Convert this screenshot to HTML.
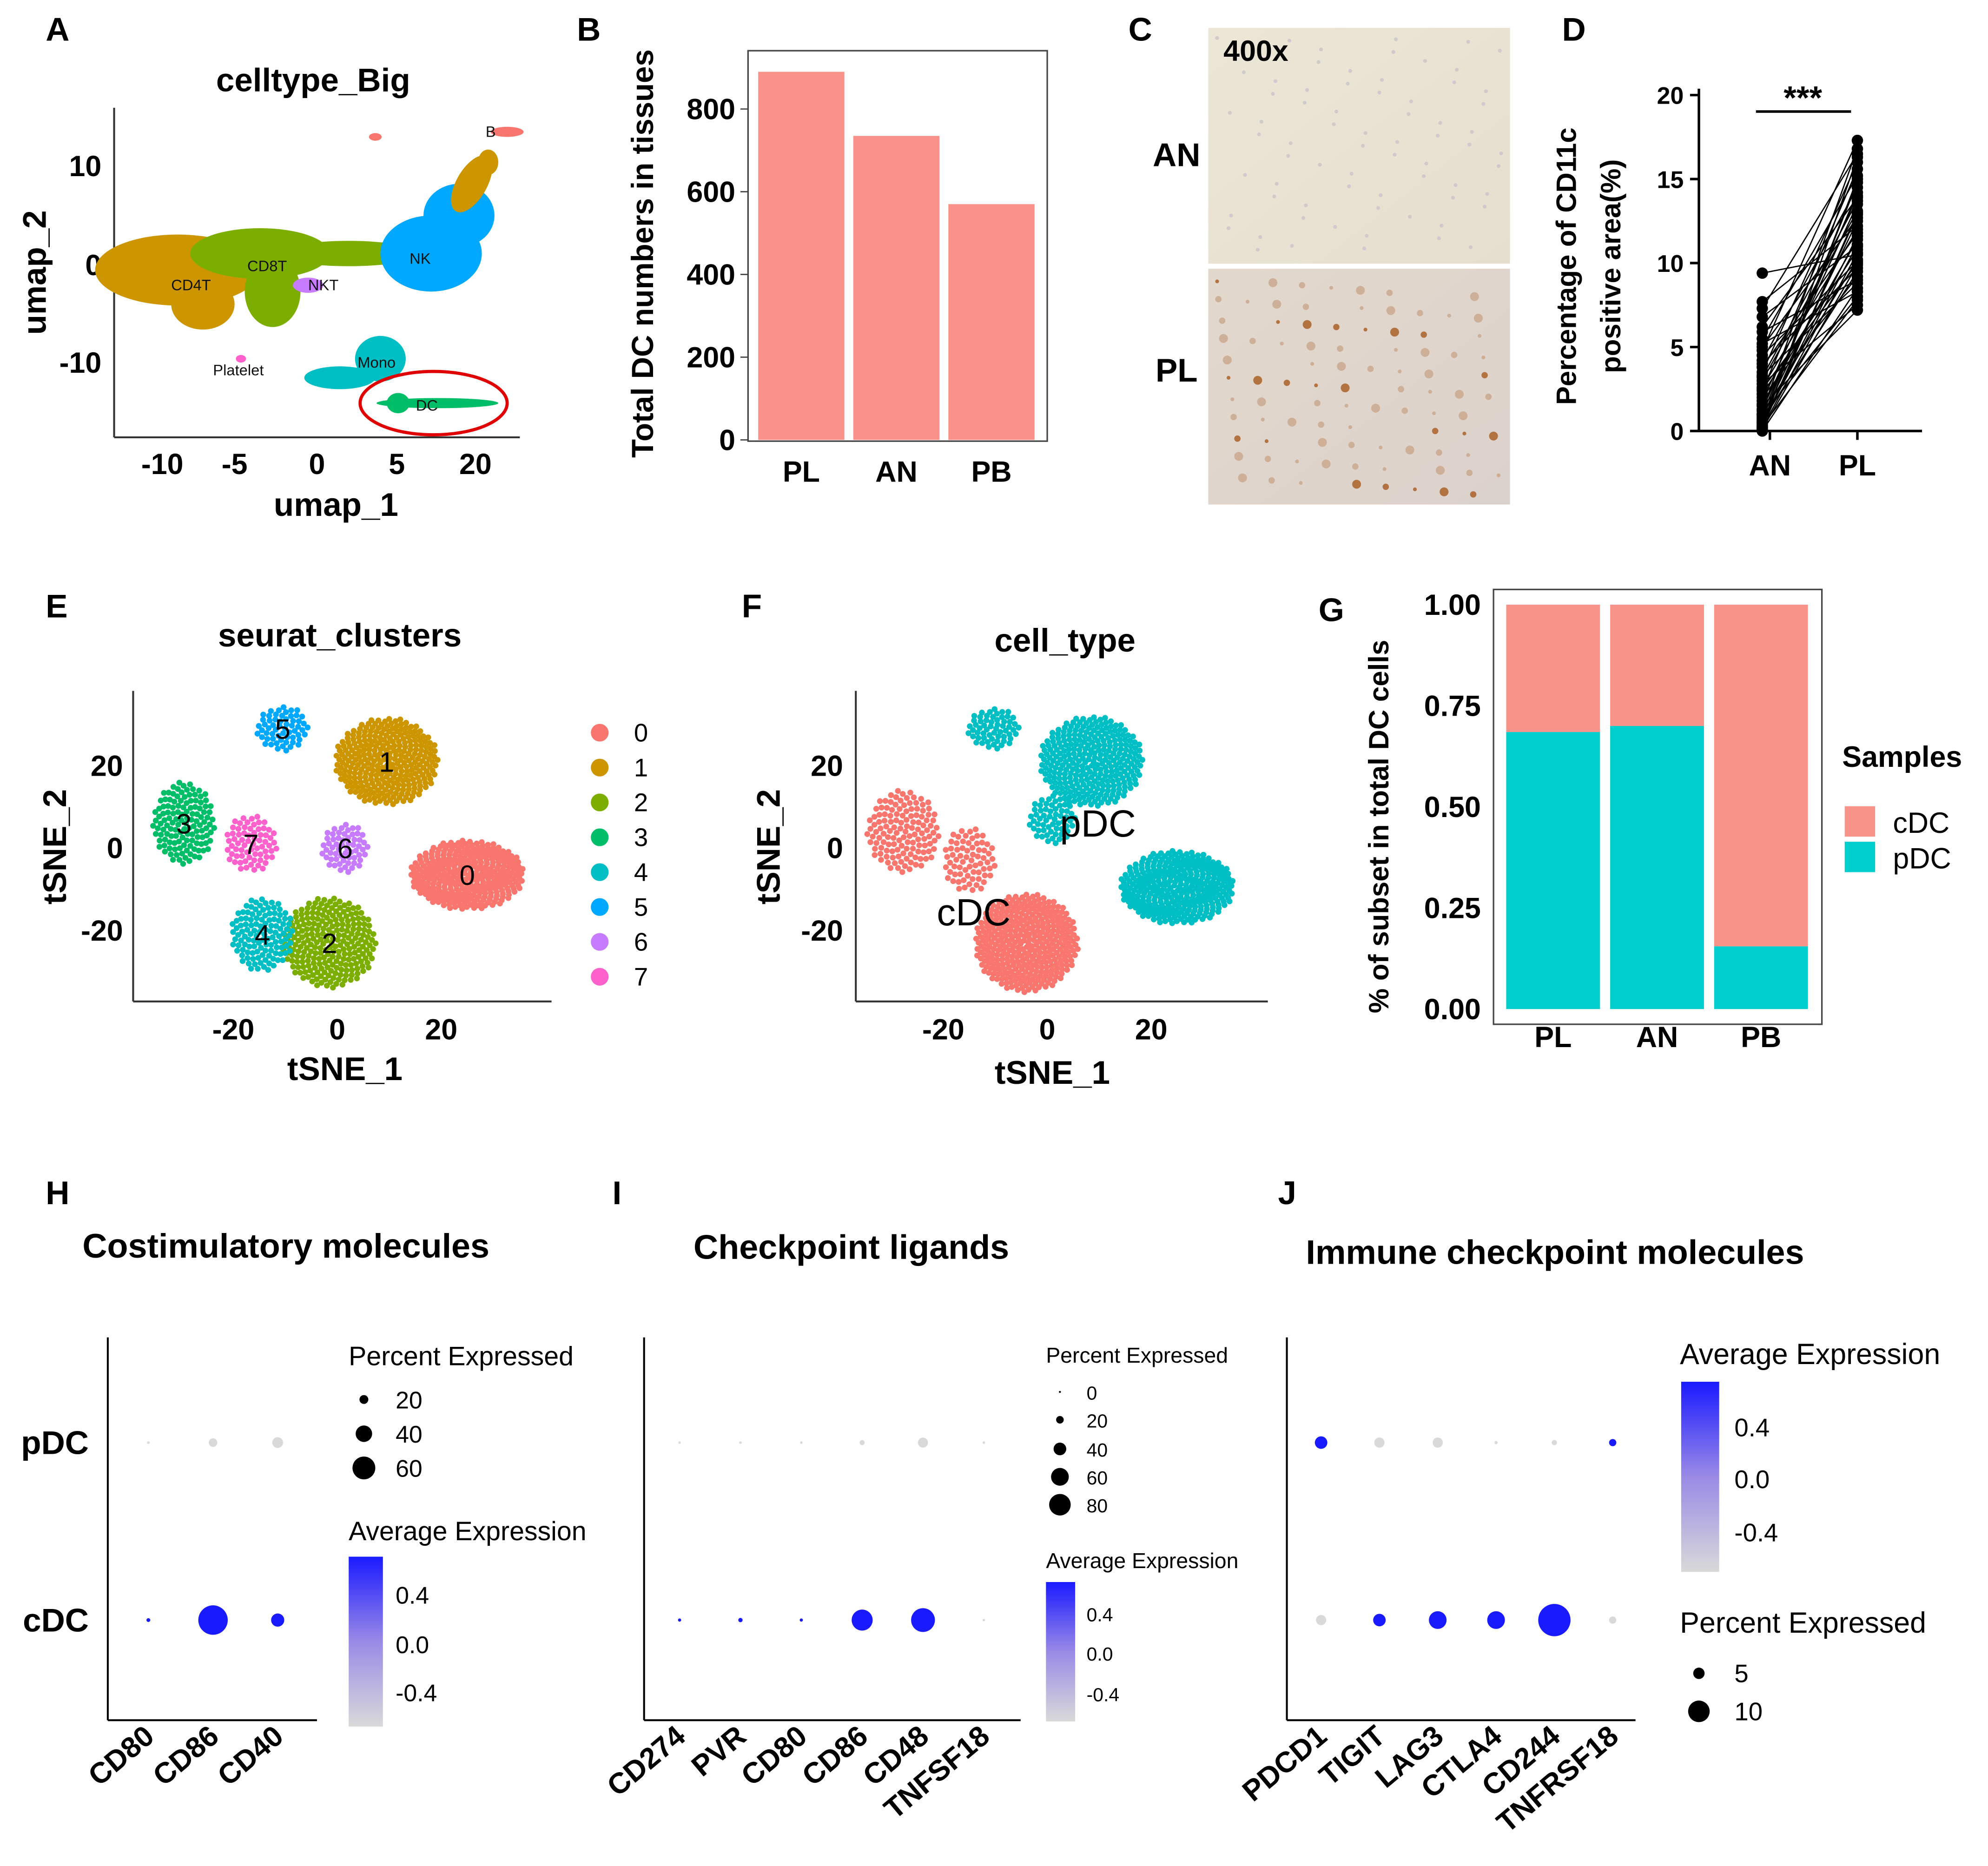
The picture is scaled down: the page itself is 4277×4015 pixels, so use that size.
<!DOCTYPE html>
<html><head><meta charset="utf-8">
<style>
html,body{margin:0;padding:0;background:#fff;}
svg{display:block;}
text{font-family:"Liberation Sans",sans-serif;}
.b{font-weight:bold;}
</style></head>
<body>
<svg id="fig" xmlns="http://www.w3.org/2000/svg" width="4277" height="4015" viewBox="0 0 1568 1472">
<defs>
<linearGradient id="cbar" x1="0" y1="0" x2="0" y2="1">
<stop offset="0" stop-color="#1a1aff"/><stop offset="0.5" stop-color="#9a8ae6"/><stop offset="1" stop-color="#d9d9d9"/>
</linearGradient>
<linearGradient id="tissueA" x1="0" y1="0" x2="1" y2="1">
<stop offset="0" stop-color="#ece6d6"/><stop offset="1" stop-color="#e6dfcf"/>
</linearGradient>
<linearGradient id="tissueB" x1="0" y1="0" x2="1" y2="1">
<stop offset="0" stop-color="#e3d8cc"/><stop offset="1" stop-color="#dcd2cc"/>
</linearGradient>
</defs>

<!-- Panel labels -->
<g class="b" font-size="26">
<text x="36" y="32">A</text><text x="455" y="32">B</text><text x="890" y="32">C</text><text x="1232" y="32">D</text>
<text x="36" y="487">E</text><text x="585" y="487">F</text><text x="1040" y="490">G</text>
<text x="36" y="950">H</text><text x="483" y="950">I</text><text x="1008" y="950">J</text>
</g>

<!-- Panel A: UMAP -->
<g id="panelA">
<text x="247" y="72" text-anchor="middle" class="b" font-size="26">celltype_Big</text>
<line x1="90" y1="85" x2="90" y2="345" stroke="#333" stroke-width="1.5"/>
<line x1="90" y1="345" x2="410" y2="345" stroke="#333" stroke-width="1.5"/>
<g class="b" font-size="23" text-anchor="end">
<text x="80" y="139">10</text><text x="80" y="217">0</text><text x="80" y="294">-10</text></g>
<g class="b" font-size="23" text-anchor="middle">
<text x="128" y="374">-10</text><text x="185" y="374">-5</text><text x="250" y="374">0</text><text x="313" y="374">5</text><text x="375" y="374">20</text></g>
<text x="265" y="407" text-anchor="middle" class="b" font-size="26">umap_1</text>
<text transform="translate(36,215) rotate(-90)" text-anchor="middle" class="b" font-size="26">umap_2</text>
<g>
<ellipse cx="140" cy="213" rx="65" ry="28" fill="#CD9600"/>
<ellipse cx="160" cy="240" rx="25" ry="20" fill="#CD9600"/>
<ellipse cx="205" cy="200" rx="55" ry="20" fill="#7CAE00"/>
<ellipse cx="215" cy="230" rx="22" ry="28" fill="#7CAE00"/>
<ellipse cx="275" cy="200" rx="55" ry="10" fill="#7CAE00"/>
<ellipse cx="340" cy="200" rx="40" ry="30" fill="#00A9FF"/>
<ellipse cx="362" cy="170" rx="28" ry="25" fill="#00A9FF"/>
<ellipse cx="372" cy="145" rx="12" ry="25" fill="#CD9600" transform="rotate(30 372 145)"/>
<ellipse cx="385" cy="128" rx="8" ry="10" fill="#CD9600"/>
<ellipse cx="400" cy="104" rx="13" ry="4" fill="#F8766D"/>
<ellipse cx="296" cy="108" rx="5" ry="3" fill="#F8766D"/>
<ellipse cx="243" cy="225" rx="12" ry="6" fill="#C77CFF"/>
<ellipse cx="300" cy="283" rx="20" ry="18" fill="#00BFC4"/>
<ellipse cx="268" cy="298" rx="28" ry="9" fill="#00BFC4"/>
<ellipse cx="345" cy="318" rx="48" ry="4" fill="#00BE67"/>
<ellipse cx="314" cy="318" rx="9" ry="8" fill="#00BE67"/>
<ellipse cx="190" cy="283" rx="4" ry="3" fill="#FF61CC"/>
</g>
<ellipse cx="342" cy="318" rx="58" ry="25" fill="none" stroke="#e00000" stroke-width="2.5"/>
<g font-size="12" fill="#111">
<text x="135" y="229">CD4T</text><text x="195" y="214">CD8T</text><text x="243" y="229">NKT</text>
<text x="323" y="208">NK</text><text x="383" y="108">B</text><text x="282" y="290">Mono</text>
<text x="328" y="324">DC</text><text x="168" y="296">Platelet</text></g>
</g>

<!-- Panel B: bar chart -->
<g id="panelB">
<rect x="590" y="40" width="236" height="308" fill="none" stroke="#444" stroke-width="1.2"/>
<text transform="translate(515,200) rotate(-90)" text-anchor="middle" class="b" font-size="24">Total  DC numbers in tissues</text>
<g id="bBars"></g><g id="bTicks"></g>
</g>

<!-- Panel C: IHC images -->
<g id="panelC">
<rect x="953" y="22" width="238" height="186" fill="url(#tissueA)"/>
<rect x="953" y="212" width="238" height="186" fill="url(#tissueB)"/>
<g id="cSpots"></g>
<text x="965" y="48" class="b" font-size="23">400x</text>
<text x="928" y="131" text-anchor="middle" class="b" font-size="26">AN</text>
<text x="928" y="301" text-anchor="middle" class="b" font-size="26">PL</text>
</g>

<!-- Panel D -->
<g id="panelD">
<line x1="1340" y1="70" x2="1340" y2="340" stroke="#000" stroke-width="2"/>
<line x1="1340" y1="340" x2="1516" y2="340" stroke="#000" stroke-width="2"/>
<line x1="1385" y1="88" x2="1460" y2="88" stroke="#000" stroke-width="2"/>
<text x="1422" y="86" text-anchor="middle" class="b" font-size="26">***</text>
<text transform="translate(1243,210) rotate(-90)" text-anchor="middle" class="b" font-size="22">Percentage of CD11c</text>
<text transform="translate(1278,210) rotate(-90)" text-anchor="middle" class="b" font-size="22">positive area(%)</text>
<g id="dTicks"></g><g id="dLines"></g>
</g>

<!-- Panel E -->
<g id="panelE">
<text x="268" y="510" text-anchor="middle" class="b" font-size="26">seurat_clusters</text>
<line x1="105" y1="545" x2="105" y2="790" stroke="#333" stroke-width="1.5"/>
<line x1="105" y1="790" x2="435" y2="790" stroke="#333" stroke-width="1.5"/>
<text x="272" y="852" text-anchor="middle" class="b" font-size="26">tSNE_1</text>
<text transform="translate(52,668) rotate(-90)" text-anchor="middle" class="b" font-size="26">tSNE_2</text>
<g id="eTicks"></g><g id="ePts"></g><g id="eLegend"></g>
</g>

<!-- Panel F -->
<g id="panelF">
<text x="840" y="514" text-anchor="middle" class="b" font-size="26">cell_type</text>
<line x1="675" y1="545" x2="675" y2="790" stroke="#333" stroke-width="1.5"/>
<line x1="675" y1="790" x2="1000" y2="790" stroke="#333" stroke-width="1.5"/>
<text x="830" y="855" text-anchor="middle" class="b" font-size="26">tSNE_1</text>
<text transform="translate(615,668) rotate(-90)" text-anchor="middle" class="b" font-size="26">tSNE_2</text>
<g id="fTicks"></g><g id="fPts"></g>
<text x="866" y="660" text-anchor="middle" font-size="30">pDC</text>
<text x="768" y="730" text-anchor="middle" font-size="30">cDC</text>
</g>

<!-- Panel G -->
<g id="panelG">
<rect x="1178" y="465" width="259" height="343" fill="none" stroke="#444" stroke-width="1.2"/>
<text transform="translate(1095,652) rotate(-90)" text-anchor="middle" class="b" font-size="22">% of subset in total  DC cells</text>
<g id="gBars"></g><g id="gTicks"></g>
<text x="1453" y="605" class="b" font-size="23">Samples</text>
<rect x="1455" y="636" width="24" height="24" fill="#F8938A"/>
<rect x="1455" y="664" width="24" height="24" fill="#00CDCD"/>
<text x="1493" y="657" font-size="23">cDC</text>
<text x="1493" y="685" font-size="23">pDC</text>
</g>

<!-- Dot plot titles -->
<text x="65" y="992" class="b" font-size="27">Costimulatory molecules</text>
<text x="547" y="993" class="b" font-size="27">Checkpoint ligands</text>
<text x="1030" y="997" class="b" font-size="27">Immune checkpoint molecules</text>
<g id="dots"></g>

<!-- Legends H -->
<g>
<text x="275" y="1077" font-size="21">Percent Expressed</text>
<circle cx="287" cy="1104" r="3.5" fill="#000"/><circle cx="287" cy="1131" r="6.5" fill="#000"/><circle cx="287" cy="1158" r="9" fill="#000"/>
<text x="312" y="1111" font-size="19">20</text><text x="312" y="1138" font-size="19">40</text><text x="312" y="1165" font-size="19">60</text>
<text x="275" y="1215" font-size="21">Average Expression</text>
<rect x="275" y="1228" width="27" height="134" fill="url(#cbar)"/>
<text x="312" y="1265" font-size="19">0.4</text><text x="312" y="1304" font-size="19">0.0</text><text x="312" y="1342" font-size="19">-0.4</text>
</g>
<g>
<text x="825" y="1075" font-size="17">Percent Expressed</text>
<circle cx="836" cy="1098" r="0.8" fill="#000"/><circle cx="836" cy="1120" r="3" fill="#000"/><circle cx="836" cy="1143" r="5" fill="#000"/><circle cx="836" cy="1165" r="7" fill="#000"/><circle cx="836" cy="1187" r="8.5" fill="#000"/>
<g font-size="15"><text x="857" y="1104">0</text><text x="857" y="1126">20</text><text x="857" y="1149">40</text><text x="857" y="1171">60</text><text x="857" y="1193">80</text></g>
<text x="825" y="1237" font-size="17">Average Expression</text>
<rect x="825" y="1248" width="23" height="110" fill="url(#cbar)"/>
<g font-size="15"><text x="857" y="1279">0.4</text><text x="857" y="1310">0.0</text><text x="857" y="1342">-0.4</text></g>
</g>
<g>
<text x="1325" y="1076" font-size="23">Average Expression</text>
<rect x="1326" y="1090" width="30" height="150" fill="url(#cbar)"/>
<g font-size="20"><text x="1368" y="1133">0.4</text><text x="1368" y="1174">0.0</text><text x="1368" y="1216">-0.4</text></g>
<text x="1325" y="1288" font-size="23">Percent Expressed</text>
<circle cx="1340" cy="1320" r="4.5" fill="#000"/><circle cx="1340" cy="1350" r="8.5" fill="#000"/>
<g font-size="20"><text x="1368" y="1327">5</text><text x="1368" y="1357">10</text></g>
</g>
</svg>

<script>
// ---------- data ----------
const barCats = ['PL', 'AN', 'PB'];
const barVals = [890, 735, 570];
const barTicks = [0, 200, 400, 600, 800];

const pairAN = [9.4,7.7,7.3,6.8,6.2,5.9,5.5,5.2,5.0,4.8,4.5,4.2,4.0,3.8,3.5,3.3,3.0,2.8,2.6,2.4,2.2,2.0,1.8,1.6,1.5,1.3,1.2,1.0,0.9,0.8,0.7,0.6,0.5,0.4,0.3,0.3,0.2,0.2,0.1,0.1,0.0,0.5,1.0,2.5,3.2];
const pairPL = [10.5,12.2,16.5,11.0,13.9,9.0,15.2,8.3,12.7,17.3,10.1,14.5,9.7,11.8,16.0,8.8,13.1,7.5,12.0,15.6,10.8,9.2,14.0,11.4,7.2,13.5,16.8,10.2,8.0,12.5,14.8,9.5,11.1,15.0,7.8,13.0,10.6,12.9,9.9,16.3,8.5,11.6,14.2,10.0,13.7];
const dTicks = [0, 5, 10, 15, 20];

const tsneTicksX = [-20, 0, 20];
const tsneTicksY = [20, 0, -20];
const eLabels = ['0','1','2','3','4','5','6','7'];
const eCX = [25, 9.5, -1.5, -29.5, -14.4, -10.5, 1.5, -16.6];
const eCY = [-6.5, 21, -23, 6, -21, 29, 0, 1];
const eSX = [11, 10, 9, 6, 6, 5, 4.5, 5];
const eSY = [8.5, 10.6, 11, 10, 9, 5.5, 6, 7];
const eN = [320, 300, 240, 130, 120, 60, 60, 70];
const eColors = ['#F8766D','#CD9600','#7CAE00','#00BE67','#00BFC4','#00A9FF','#C77CFF','#FF61CC'];

const fType = ['pDC','pDC','pDC','pDC','cDC','cDC','cDC'];
const fCX = [-10.3, 8.5, 1, 25, -27.7, -15, -4];
const fCY = [29, 21, 7, -9.5, 4, -3, -23];
const fSX = [5, 10, 4.5, 11, 7, 5, 10];
const fSY = [5, 11, 6, 9, 10, 8, 12];
const fN = [60, 300, 60, 320, 130, 70, 360];

const gCats = ['PL', 'AN', 'PB'];
const gPDC = [0.685, 0.70, 0.155];
const gTicks = ['0.00','0.25','0.50','0.75','1.00'];

const hGenes = ['CD80','CD86','CD40'];
const hPctP = [0.5, 5, 8];
const hPctC = [1, 60, 12];
const hAvgP = [-0.5, -0.5, -0.5];
const hAvgC = [0.5, 0.5, 0.5];

const iGenes = ['CD274','PVR','CD80','CD86','CD48','TNFSF18'];
const iPctP = [0.5, 0.5, 0.5, 2, 8, 0.5];
const iPctC = [0.8, 1.5, 0.8, 35, 45, 0.5];
const iAvgP = [-0.5,-0.5,-0.5,-0.5,-0.5,-0.5];
const iAvgC = [0.5,0.5,0.5,0.5,0.5,-0.5];

const jGenes = ['PDCD1','TIGIT','LAG3','CTLA4','CD244','TNFRSF18'];
const jPctP = [3, 2, 2, 0.2, 0.5, 1];
const jPctC = [2, 3, 6, 6, 20, 1];
const jAvgP = [0.5, -0.5, -0.5, -0.5, -0.5, 0.5];
const jAvgC = [-0.5, 0.5, 0.5, 0.5, 0.5, -0.5];

// ---------- helpers ----------
const NS = 'http://www.w3.org/2000/svg';
function mk(parent, tag, attrs, txt) {
  const el = document.createElementNS(NS, tag);
  for (const k in attrs) el.setAttribute(k, attrs[k]);
  if (txt !== undefined) el.textContent = txt;
  document.getElementById(parent).appendChild(el);
  return el;
}
function lin(d0, d1, r0, r1) { return v => r0 + (v - d0) * (r1 - r0) / (d1 - d0); }

// ---------- Panel B ----------
const bY = lin(0, 800, 347, 86);
const bX = i => 598 + i * 75;
barCats.forEach((c, i) => {
  let el = mk('bBars', 'rect', {x: bX(i), y: bY(barVals[i]), width: 68, height: bY(0) - bY(barVals[i]), fill: '#F8928A'});
  
  
  el = mk('bTicks', 'text', {x: bX(i) + 34, y: 380, 'text-anchor': 'middle', 'class': 'b', 'font-size': 23}, c);
  
  
});
barTicks.forEach(t => {
  let el = mk('bTicks', 'text', {x: 580, y: bY(t) + 8, 'text-anchor': 'end', 'class': 'b', 'font-size': 23}, String(t));
  
  
  mk('bTicks', 'line', {x1: 584, x2: 590, y1: bY(t), y2: bY(t), stroke: '#444'});
});

// ---------- Panel C spots ----------
for (let i = 0; i < 90; i++) {
  const x = 960 + ((i * 97) % 225), y = 222 + ((i * 53) % 170);
  const s = mk('cSpots', 'circle', {cx: x, cy: y, r: 1.5 + (i % 3), fill: i % 4 === 0 ? '#a85a1e' : '#c9a58a', opacity: 0.8});
  
  
}
for (let i = 0; i < 70; i++) {
  const x = 960 + ((i * 71) % 225), y = 30 + ((i * 41) % 172);
  const s = mk('cSpots', 'circle', {cx: x, cy: y, r: 1.5, fill: '#cbc3c9', opacity: 0.8});
  
  
}
mk('cSpots', 'line', {x1: 953, x2: 1191, y1: 210, y2: 210, stroke: '#fff', 'stroke-width': 3});

// ---------- Panel D ----------
const dY = lin(0, 20, 340, 75);
dTicks.forEach(t => {
  let el = mk('dTicks', 'text', {x: 1328, y: dY(t) + 7, 'text-anchor': 'end', 'class': 'b', 'font-size': 19}, String(t));
  
  
  mk('dTicks', 'line', {x1: 1333, x2: 1340, y1: dY(t), y2: dY(t), stroke: '#000', 'stroke-width': 2});
});
[['AN', 1396], ['PL', 1465]].forEach(p => {
  let el = mk('dTicks', 'text', {x: p[1], y: 375, 'text-anchor': 'middle', 'class': 'b', 'font-size': 23}, p[0]);
  
  
  mk('dTicks', 'line', {x1: p[1], x2: p[1], y1: 340, y2: 347, stroke: '#000', 'stroke-width': 2});
});
pairAN.forEach((a, i) => {
  const p = pairPL[i];
  let el = mk('dLines', 'line', {x1: 1390, y1: dY(a), x2: 1465, y2: dY(p), stroke: '#000', 'stroke-width': 1});
  
  
  el = mk('dLines', 'circle', {cx: 1390, cy: dY(a), r: 4.5, fill: '#000'});
  
  
  el = mk('dLines', 'circle', {cx: 1465, cy: dY(p), r: 4.5, fill: '#000'});
  
  
});

// ---------- tSNE ----------
function tsne(group, x0, ticksG) {
  const sx = lin(0, 20, x0, x0 + 82), sy = lin(0, 20, 669, 604);
  tsneTicksX.forEach(t => {
    let el = mk(ticksG, 'text', {x: sx(t), y: 820, 'text-anchor': 'middle', 'class': 'b', 'font-size': 23}, String(t));
    
    
  });
  return [sx, sy];
}
function cloud(g, sx, sy, cx, cy, rx, ry, n, col, name) {
  for (let k = 0; k < n; k++) {
    const r = Math.sqrt((k + 0.5) / n), th = k * 2.39996;
    const el = mk(g, 'circle', {cx: sx(cx + rx * r * Math.cos(th)), cy: sy(cy + ry * r * Math.sin(th)), r: 2.3, fill: col});
    
    
  }
}
let [eX, eY] = tsne('ePts', 266, 'eTicks');
tsneTicksY.forEach(t => {
  let el = mk('eTicks', 'text', {x: 97, y: eY(t) + 8, 'text-anchor': 'end', 'class': 'b', 'font-size': 23}, String(t));
  
  
});
eLabels.forEach((l, i) => {
  cloud('ePts', eX, eY, eCX[i], eCY[i], eSX[i], eSY[i], eN[i], eColors[i], 'cluster-' + l + '-point');
});
eLabels.forEach((l, i) => {
  let el = mk('ePts', 'text', {x: eX(eCX[i]), y: eY(eCY[i]) + 8, 'text-anchor': 'middle', 'font-size': 22}, l);
  
  
  el = mk('eLegend', 'circle', {cx: 473, cy: 578 + i * 27.5, r: 7, fill: eColors[i]});
  
  
  el = mk('eLegend', 'text', {x: 500, y: 585 + i * 27.5, 'font-size': 20}, l);
  
  
});
let [fX, fY] = tsne('fPts', 826, 'fTicks');
tsneTicksY.forEach(t => {
  let el = mk('fTicks', 'text', {x: 665, y: fY(t) + 8, 'text-anchor': 'end', 'class': 'b', 'font-size': 23}, String(t));
  
  
});
fType.forEach((t, i) => {
  cloud('fPts', fX, fY, fCX[i], fCY[i], fSX[i], fSY[i], fN[i], t === 'pDC' ? '#00BFC4' : '#F8766D', t.toLowerCase() + '-point');
});

// ---------- Panel G ----------
const gY = lin(0, 1, 796, 477);
gCats.forEach((c, i) => {
  const x = 1188 + i * 82;
  let el = mk('gBars', 'rect', {x: x, y: gY(1), width: 74, height: gY(gPDC[i]) - gY(1), fill: '#F8938A'});
  
  
  el = mk('gBars', 'rect', {x: x, y: gY(gPDC[i]), width: 74, height: gY(0) - gY(gPDC[i]), fill: '#00CDCD'});
  
  
  el = mk('gTicks', 'text', {x: x + 37, y: 826, 'text-anchor': 'middle', 'class': 'b', 'font-size': 23}, c);
  
  
});
gTicks.forEach(t => {
  let el = mk('gTicks', 'text', {x: 1168, y: gY(+t) + 8, 'text-anchor': 'end', 'class': 'b', 'font-size': 23}, t);
  
  
});

// ---------- Dot plots ----------
function avgColor(v) {
  const f = Math.max(0, Math.min(1, (v + 0.5) / 1));
  const a = [217, 217, 217], b = [26, 26, 255];
  return 'rgb(' + a.map((c, k) => Math.round(c + (b[k] - c) * f)).join(',') + ')';
}
function dotplot(axX, axEnd, x0, step, genes, pP, pC, aP, aC, k, lbl) {
  mk('dots', 'line', {x1: axX, y1: 1055, x2: axX, y2: 1357, stroke: '#000', 'stroke-width': 1.5});
  mk('dots', 'line', {x1: axX, y1: 1357, x2: axEnd, y2: 1357, stroke: '#000', 'stroke-width': 1.5});
  if (lbl) {
    [['pDC', 1138], ['cDC', 1278]].forEach(r => {
      let el = mk('dots', 'text', {x: axX - 15, y: r[1] + 9, 'text-anchor': 'end', 'class': 'b', 'font-size': 26}, r[0]);
      
      
    });
  }
  genes.forEach((g, i) => {
    const x = x0 + i * step;
    let el = mk('dots', 'text', {transform: 'translate(' + (x + 6) + ',1372) rotate(-40)', 'text-anchor': 'end', 'class': 'b', 'font-size': 23}, g);
    
    
    el = mk('dots', 'circle', {cx: x, cy: 1138, r: Math.max(0.5, k * Math.sqrt(pP[i])), fill: avgColor(aP[i])});
    
    
    el = mk('dots', 'circle', {cx: x, cy: 1278, r: Math.max(0.5, k * Math.sqrt(pC[i])), fill: avgColor(aC[i])});
    
    
  });
}
dotplot(85, 250, 117, 51, hGenes, hPctP, hPctC, hAvgP, hAvgC, 1.5, true);
dotplot(508, 805, 536, 48, iGenes, iPctP, iPctC, iAvgP, iAvgC, 1.4, false);
dotplot(1015, 1290, 1042, 46, jGenes, jPctP, jPctC, jAvgP, jAvgC, 2.85, false);
</script>
</body></html>
